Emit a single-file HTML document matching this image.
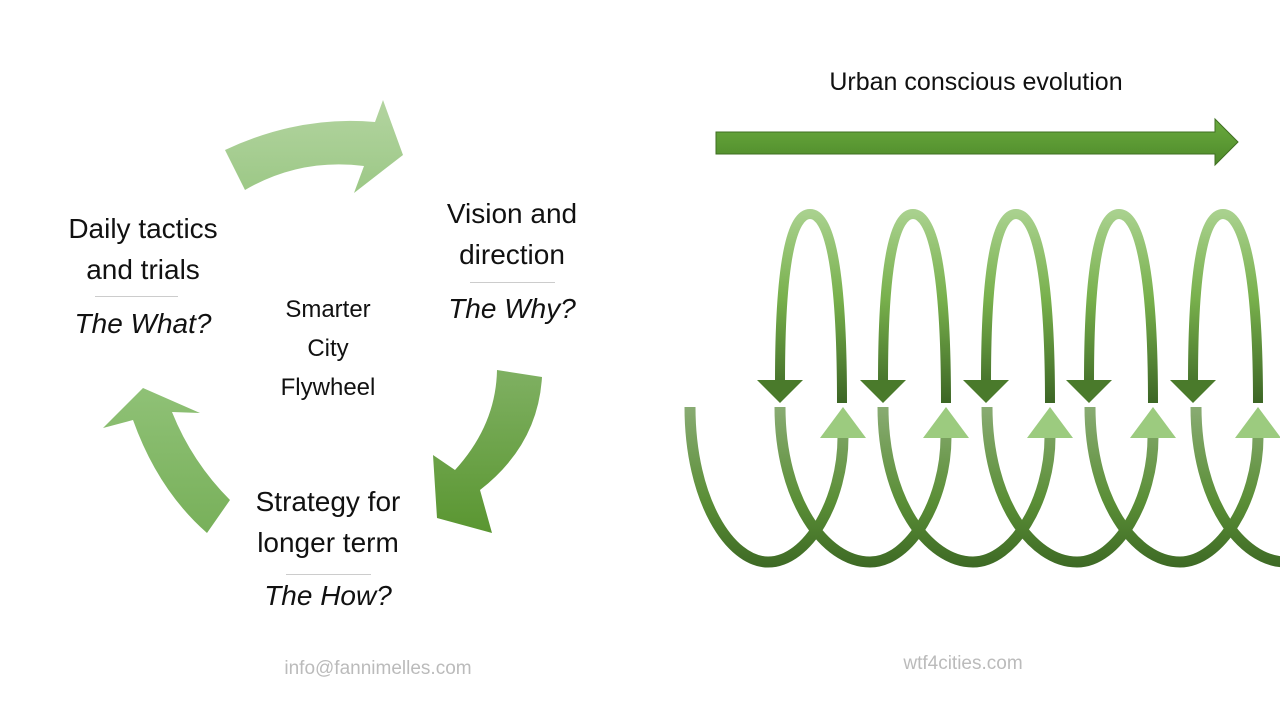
<!DOCTYPE html>
<html><head><meta charset="utf-8"><style>
body{margin:0;width:1280px;height:720px;background:#fff;overflow:hidden;position:relative;font-family:"Liberation Sans",sans-serif}
.t{position:absolute;text-align:center;color:#111;white-space:nowrap}
.big{font-size:28px;line-height:41px}
.it{font-style:italic;font-size:28px}
.hr{position:absolute;height:1px;background:#ccc}
</style></head><body>
<svg width="1280" height="720" style="position:absolute;left:0;top:0">
<defs>
<linearGradient id="ta" x1="0" y1="0" x2="0" y2="1"><stop offset="0" stop-color="#b3d4a0"/><stop offset="1" stop-color="#9cc886"/></linearGradient>
<linearGradient id="ra" x1="0" y1="0" x2="0" y2="1"><stop offset="0" stop-color="#7fb062"/><stop offset="1" stop-color="#5a9631"/></linearGradient>
<linearGradient id="la" x1="0" y1="0" x2="0" y2="1"><stop offset="0" stop-color="#8fc176"/><stop offset="1" stop-color="#78b05a"/></linearGradient>
<linearGradient id="ba" x1="0" y1="0" x2="0" y2="1"><stop offset="0" stop-color="#6aaa3e"/><stop offset="1" stop-color="#4e8a2a"/></linearGradient>
<linearGradient id="up" gradientUnits="userSpaceOnUse" x1="0" y1="212" x2="0" y2="405"><stop offset="0" stop-color="#a9d18e"/><stop offset="0.45" stop-color="#78b04c"/><stop offset="1" stop-color="#3b6424"/></linearGradient>
<linearGradient id="lo" gradientUnits="userSpaceOnUse" x1="0" y1="405" x2="0" y2="566"><stop offset="0" stop-color="#8aac74"/><stop offset="0.6" stop-color="#5a8e36"/><stop offset="1" stop-color="#3e6a25"/></linearGradient>
<linearGradient id="ua" gradientUnits="userSpaceOnUse" x1="0" y1="566" x2="0" y2="405"><stop offset="0" stop-color="#4f8a2c"/><stop offset="0.5" stop-color="#78b04c"/><stop offset="1" stop-color="#aad38f"/></linearGradient>
</defs>
<path d="M225,150 Q300,115 375,122 L383,100 L403,155 L354,193 L364,166 Q300,158 245,190 Z" fill="url(#ta)"/>
<path d="M497,370 L542,377 Q538,445 480,490 L492,533 L437,518 L433,455 L455,470 Q496,425 497,370 Z" fill="url(#ra)"/>
<path d="M230,500 L207,533 Q158,490 133,420 L103,428 L143,388 L200,413 L172,412 Q192,462 230,500 Z" fill="url(#la)"/>
<path d="M716,132 L1215,132 L1215,119 L1238,142 L1215,165 L1215,154 L716,154 Z" fill="url(#ba)" stroke="#3f6f22" stroke-width="1"/>
<g fill="none" stroke-width="10">
<g id="L">
<path d="M780,382 C780,260 792,214 810,214 C828,214 842,260 842,403" stroke="url(#up)"/>
<polygon points="757,380 803,380 780,403" fill="#4a7a2b" stroke="none"/>
<path d="M690,407 C690,500 730,562 768,562 C808,562 843,500 843,437" stroke="url(#lo)" stroke-width="11"/>
<polygon points="820,438 866,438 843,407" fill="#9ccb7f" stroke="none"/>
</g>
</g>
<g fill="none" stroke-width="10">
<path d="M780,407 C780,500 825,562 870,562 C910,562 946,500 946,437" stroke="url(#lo)" stroke-width="11"/>
<path d="M883,407 C883,500 928,562 973,562 C1013,562 1050,500 1050,437" stroke="url(#lo)" stroke-width="11"/>
<path d="M987,407 C987,500 1032,562 1077,562 C1117,562 1153,500 1153,437" stroke="url(#lo)" stroke-width="11"/>
<path d="M1090,407 C1090,500 1135,562 1180,562 C1220,562 1258,500 1258,437" stroke="url(#lo)" stroke-width="11"/>
<path d="M1196,407 C1196,500 1241,562 1286,562" stroke="url(#lo)" stroke-width="11"/>
<path d="M883,382 C883,260 895,214 913,214 C931,214 946,260 946,403" stroke="url(#up)"/>
<path d="M986,382 C986,260 998,214 1016,214 C1034,214 1050,260 1050,403" stroke="url(#up)"/>
<path d="M1089,382 C1089,260 1101,214 1119,214 C1137,214 1153,260 1153,403" stroke="url(#up)"/>
<path d="M1193,382 C1193,260 1205,214 1223,214 C1241,214 1258,260 1258,403" stroke="url(#up)"/>
</g>
<g fill="#4a7a2b">
<polygon points="860,380 906,380 883,403"/><polygon points="963,380 1009,380 986,403"/><polygon points="1066,380 1112,380 1089,403"/><polygon points="1170,380 1216,380 1193,403"/>
</g>
<g fill="#9ccb7f">
<polygon points="923,438 969,438 946,407"/><polygon points="1027,438 1073,438 1050,407"/><polygon points="1130,438 1176,438 1153,407"/><polygon points="1235,438 1281,438 1258,407"/>
</g>
</svg>
<div class="t big" style="left:43px;width:200px;top:208px">Daily tactics<br>and trials</div>
<div class="hr" style="left:95px;width:83px;top:296px"></div>
<div class="t it" style="left:43px;width:200px;top:308px">The What?</div>
<div class="t big" style="left:412px;width:200px;top:193px">Vision and<br>direction</div>
<div class="hr" style="left:470px;width:85px;top:282px"></div>
<div class="t it" style="left:412px;width:200px;top:293px">The Why?</div>
<div class="t big" style="left:228px;width:200px;top:481px">Strategy for<br>longer term</div>
<div class="hr" style="left:286px;width:85px;top:574px"></div>
<div class="t it" style="left:228px;width:200px;top:580px">The How?</div>
<div class="t" style="left:228px;width:200px;top:290px;font-size:24px;line-height:39px">Smarter<br>City<br>Flywheel</div>
<div class="t" style="left:776px;width:400px;top:68px;font-size:25px">Urban conscious evolution</div>
<div class="t" style="left:228px;width:300px;top:658px;font-size:19px;color:#bbb">info@fannimelles.com</div>
<div class="t" style="left:813px;width:300px;top:653px;font-size:19px;color:#bbb">wtf4cities.com</div>
</body></html>
